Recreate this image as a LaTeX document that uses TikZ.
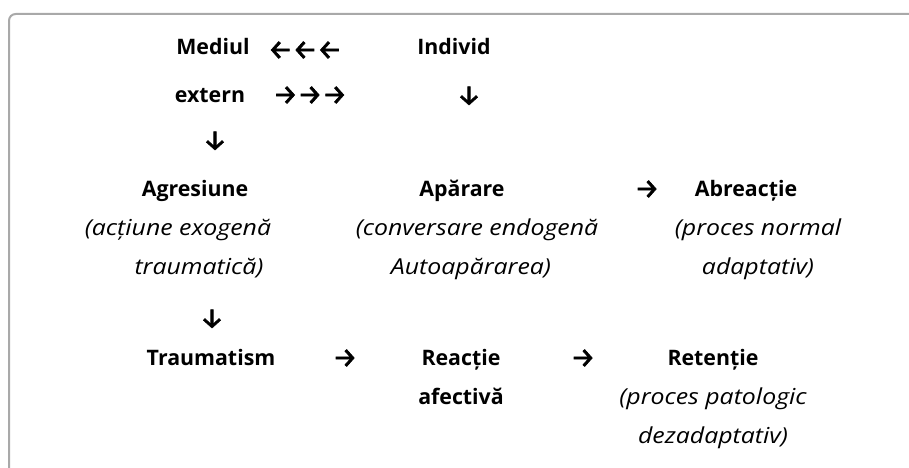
\documentclass[tikz,border=0pt]{standalone}
\usepackage{fontspec}
\setmainfont{Open Sans}[ItalicFeatures={FakeStretch=1.13}]
\newfontfamily\arrowfont{Fira Sans}[FakeBold=2.4]
\usetikzlibrary{positioning}
\definecolor{framegray}{HTML}{A9A9A9}
\tikzset{word/.style={font=\fontsize{16}{19}\selectfont\bfseries, inner sep=0pt, text height=11pt, text depth=3.5pt},
  note/.style={word, font=\fontsize{16.5}{19}\selectfont\itshape},
  sym/.style={word, font=\fontsize{20.5}{24}\selectfont\arrowfont}}
\begin{document}
\begin{tikzpicture}[x=0.75pt,y=-0.75pt, node distance=29.5pt, on grid]
\useasboundingbox (0,0) rectangle (909,467);
\draw[framegray, line width=1.5pt, rounded corners=5pt] (9,480) |- (930,14);
\node[word] (med) at (213,50) {Mediul}; \node[sym] (back) at (305,54) {←←←}; \node[word] (ind) at (454,50) {Individ};
\node[word] (ext) at (210,97) {extern}; \node[sym] (forth) at (310,99) {→→→}; \node[sym] (down1) at (469,99) {↓};
\node[sym] (down2) at (215,144) {↓};
\node[word] (agr) at (195,191) {Agresiune}; \node[note] (agr1) [below=of agr, xshift=-12.75pt] {(acțiune exogenă}; \node[note] (agr2) [below=of agr, yshift=-29.5pt, xshift=3pt] {traumatică)};
\node[word] (apa) at (462,191) {Apărare}; \node[note] (apa1) [below=of apa, xshift=11.25pt] {(conversare endogenă}; \node[note] (apa2) [below=of apa, yshift=-29.5pt, xshift=6.75pt] {Autoapărarea)};
\node[sym] (to1) at (647,193) {→};
\node[word] (abr) at (746,191) {Abreacție}; \node[note] (abr1) [below=of abr, xshift=9pt] {(proces normal}; \node[note] (abr2) [below=of abr1] {adaptativ)};
\node[sym] (down3) at (212,322) {↓};
\node[word] (tra) at (211,360) {Traumatism}; \node[sym] (to2) at (345,362) {→};
\node[word] (rea) at (461,360) {Reacție}; \node[word] (rea1) [below=of rea] {afectivă}; \node[sym] (to3) at (583,362) {→};
\node[word] (ret) at (713,360) {Retenție}; \node[note] (ret1) [below=of ret] {(proces patologic}; \node[note] (ret2) [below=of ret1] {dezadaptativ)};
\end{tikzpicture}
\end{document}
